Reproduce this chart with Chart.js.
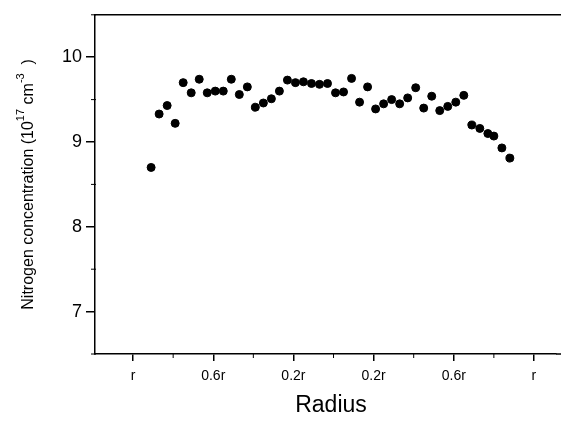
<!DOCTYPE html>
<html>
<head>
<meta charset="utf-8">
<script src="https://cdn.jsdelivr.net/npm/chart.js@4"></script>
<style>
  html, body { margin: 0; padding: 0; background: #fff; }
  #wrap { width: 561px; height: 430px; position: relative; }
</style>
</head>
<body>
<div id="wrap"><canvas id="nChart"></canvas></div>
<script>
// radial position (fraction of r, left side negative) and nitrogen concentration (10^17 cm^-3)
const radiusPos = [-0.91, -0.87, -0.83, -0.79, -0.75, -0.71, -0.67, -0.63, -0.59, -0.55,
    -0.51, -0.47, -0.43, -0.39, -0.35, -0.31, -0.27, -0.23, -0.19, -0.15,
    -0.11, -0.07, -0.03, 0.01, 0.05, 0.09, 0.13, 0.17, 0.21, 0.25,
    0.29, 0.33, 0.37, 0.41, 0.45, 0.49, 0.53, 0.57, 0.61, 0.65,
    0.69, 0.73, 0.77, 0.80, 0.84, 0.88];
const nitrogen = [8.70, 9.33, 9.43, 9.22, 9.70, 9.58, 9.74, 9.58, 9.60, 9.60,
    9.74, 9.56, 9.65, 9.41, 9.46, 9.51, 9.60, 9.73, 9.70, 9.71,
    9.69, 9.68, 9.69, 9.58, 9.59, 9.75, 9.47, 9.65, 9.39, 9.45,
    9.50, 9.45, 9.52, 9.64, 9.40, 9.54, 9.37, 9.42, 9.47, 9.55,
    9.20, 9.16, 9.10, 9.07, 8.93, 8.81];

const xTicks = [-1, -0.6, -0.2, 0.2, 0.6, 1];
const xTickLabels = ["r", "0.6r", "0.2r", "0.2r", "0.6r", "r"];
const xMinorTicks = [-0.8, -0.4, 0, 0.4, 0.8];
const yTicks = [7, 8, 9, 10];
const yMinorTicks = [6.5, 7.5, 8.5, 9.5, 10.5];

const points = radiusPos.map((x, i) => ({ x: x, y: nitrogen[i] }));
const FONT = "'Liberation Sans', Arial, sans-serif";

// top frame line, minor ticks and the axis titles
const extras = {
    id: "extras",
    afterDraw(chart) {
        const ctx = chart.ctx;
        const area = chart.chartArea;
        const xs = chart.scales.x;
        const ys = chart.scales.y;
        ctx.save();
        ctx.strokeStyle = "#000";
        ctx.lineWidth = 1.5;
        ctx.beginPath();
        ctx.moveTo(area.left, area.top);
        ctx.lineTo(chart.width, area.top);
        ctx.moveTo(area.right, area.bottom);
        ctx.lineTo(chart.width, area.bottom);
        ctx.stroke();

        ctx.lineWidth = 1;
        xMinorTicks.forEach(v => {
            const px = xs.getPixelForValue(v);
            ctx.beginPath();
            ctx.moveTo(px, area.bottom);
            ctx.lineTo(px, area.bottom + 4);
            ctx.stroke();
        });
        yMinorTicks.forEach(v => {
            const py = ys.getPixelForValue(v);
            ctx.beginPath();
            ctx.moveTo(area.left - 4, py);
            ctx.lineTo(area.left + 1, py);
            ctx.stroke();
        });

        // x axis title
        ctx.fillStyle = "#000";
        ctx.font = "23px " + FONT;
        ctx.textAlign = "center";
        ctx.textBaseline = "middle";
        ctx.fillText("Radius", 331, 406);

        // y axis title
        const parts = [
            { t: "Nitrogen concentration (10", sup: false },
            { t: "17", sup: true },
            { t: " cm", sup: false },
            { t: "-3", sup: true },
            { t: "  )", sup: false }
        ];
        const mainFont = "16px " + FONT;
        const supFont = "11px " + FONT;
        let total = 0;
        parts.forEach(p => {
            ctx.font = p.sup ? supFont : mainFont;
            p.w = ctx.measureText(p.t).width;
            total += p.w;
        });
        ctx.translate(33, (area.top + area.bottom) / 2);
        ctx.rotate(-Math.PI / 2);
        ctx.textBaseline = "alphabetic";
        ctx.textAlign = "left";
        let cx = -total / 2;
        parts.forEach(p => {
            ctx.font = p.sup ? supFont : mainFont;
            ctx.fillText(p.t, cx, p.sup ? -9 : 0);
            cx += p.w;
        });
        ctx.restore();
    }
};

new Chart(document.getElementById("nChart"), {
    type: "scatter",
    data: {
        datasets: [{
            label: "Nitrogen",
            data: points,
            backgroundColor: "#000",
            borderColor: "#000",
            pointRadius: 4,
            pointHoverRadius: 4
        }]
    },
    options: {
        responsive: true,
        maintainAspectRatio: false,
        animation: false,
        layout: { padding: { top: 13, right: 0, left: 0, bottom: 0 } },
        plugins: {
            legend: { display: false },
            tooltip: { enabled: false }
        },
        scales: {
            x: {
                type: "linear",
                min: -1.19,
                max: 1.11,
                afterBuildTicks(scale) {
                    scale.ticks = xTicks.map(v => ({ value: v }));
                },
                afterFit(scale) { scale.height = 76; },
                ticks: {
                    color: "#000",
                    padding: 7,
                    maxRotation: 0,
                    font: { family: FONT, size: 14 },
                    callback: (v, i) => xTickLabels[i]
                },
                grid: { drawOnChartArea: false, drawTicks: true, tickLength: 7, color: "#000", lineWidth: 1.5 },
                border: { display: true, color: "#000", width: 1.5 }
            },
            y: {
                min: 6.5,
                max: 10.5,
                afterBuildTicks(scale) {
                    scale.ticks = yTicks.map(v => ({ value: v }));
                },
                afterFit(scale) { scale.width = 95; },
                ticks: {
                    color: "#000",
                    padding: 4,
                    font: { family: FONT, size: 18 }
                },
                grid: { drawOnChartArea: false, drawTicks: true, tickLength: 9, color: "#000", lineWidth: 1.5 },
                border: { display: true, color: "#000", width: 1.5 }
            }
        }
    },
    plugins: [extras]
});
</script>
</body>
</html>
